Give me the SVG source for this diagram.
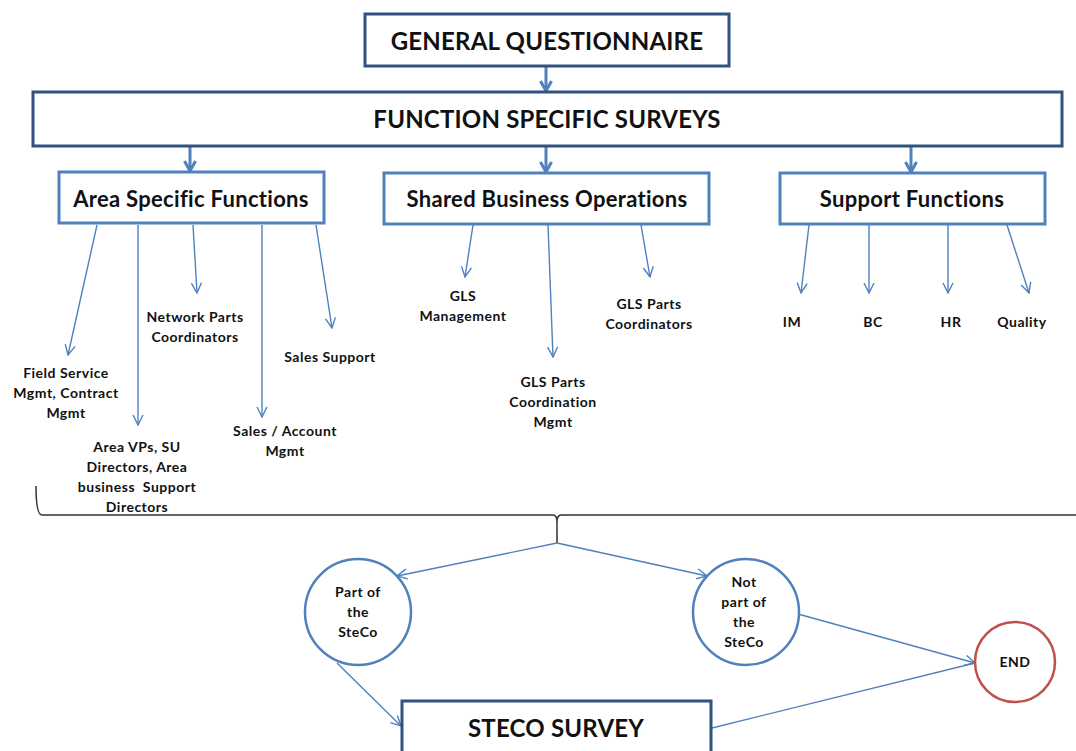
<svg xmlns="http://www.w3.org/2000/svg" width="1076" height="751" viewBox="0 0 1076 751">
  <style>
    .t { font-family: Lato, "Liberation Sans", sans-serif; font-weight: bold; fill: #111; text-anchor: middle; }
    .big { font-size: 24px; letter-spacing: 0.2px; }
    .mid { font-size: 22px; letter-spacing: 0.3px; }
    .sm { font-size: 14px; letter-spacing: 0.5px; }
    .box-dark { fill: #fff; stroke: #2f5380; stroke-width: 3; }
    .box { fill: #fff; stroke: #4f81bd; stroke-width: 3; }
    .thin { fill: none; stroke: #4f81bd; stroke-width: 1.4; marker-end: url(#vhead); }
    .thick { fill: none; stroke: #4f81bd; stroke-width: 3; marker-end: url(#vbig); }
    .plain { fill: none; stroke: #4f81bd; stroke-width: 1.4; }
    .brace { fill: none; stroke: #333; stroke-width: 1.5; }
    .circ { fill: #fff; stroke: #4f81bd; stroke-width: 2.5; }
    .endc { fill: #fff; stroke: #c0504d; stroke-width: 2.5; }
  </style>
  <defs>
    <marker id="vhead" viewBox="0 0 12 12" refX="11" refY="6" markerWidth="12" markerHeight="12" markerUnits="userSpaceOnUse" orient="auto">
      <path d="M1,1 L11,6 L1,11" fill="none" stroke="#4f81bd" stroke-width="1.4"/>
    </marker>
    <marker id="vbig" viewBox="0 0 14 14" refX="12" refY="7" markerWidth="14" markerHeight="14" markerUnits="userSpaceOnUse" orient="auto">
      <path d="M2,1.5 L12,7 L2,12.5" fill="none" stroke="#4f81bd" stroke-width="3"/>
    </marker>
  </defs>

  <rect width="1076" height="751" fill="#fff"/>

  <!-- connectors -->
  <g id="connectors">
    <path class="thick" d="M546,67 V91"/>
    <path class="thick" d="M190,147 V171"/>
    <path class="thick" d="M546,147 V172"/>
    <path class="thick" d="M911,147 V172"/>

    <!-- area specific -->
    <path class="thin" d="M97,225 L68,355"/>
    <path class="thin" d="M138,225 L138,425"/>
    <path class="thin" d="M193,225 L197,293"/>
    <path class="thin" d="M262,225 L262,417"/>
    <path class="thin" d="M316,225 L332,328"/>

    <!-- shared business -->
    <path class="thin" d="M473,225 L465,277"/>
    <path class="thin" d="M548,225 L553,357"/>
    <path class="thin" d="M641,225 L650,277"/>

    <!-- support -->
    <path class="thin" d="M809,225 L801,293"/>
    <path class="thin" d="M869,225 L869,293"/>
    <path class="thin" d="M948,225 L948,293"/>
    <path class="thin" d="M1007,225 L1029,293"/>

    <!-- grouping brace -->
    <path class="brace" d="M36,486 Q36,515 42,515 L553,515 Q557,515 557,522 L557,543 M557,543 L557,522 Q557,515 561,515 L1076,515"/>

    <path class="thin" d="M557,543 L397,576"/>
    <path class="thin" d="M557,543 L707,576"/>

    <path class="thin" d="M337,663 L401,726"/>
    <path class="thin" d="M798,614 L975,663"/>
    <path class="plain" d="M712,728 L975,663"/>
  </g>

  <g id="general-questionnaire">
    <rect class="box-dark" x="365" y="14" width="364" height="52"/>
    <text class="t big" x="547" y="50">GENERAL QUESTIONNAIRE</text>
  </g>

  <g id="function-specific-surveys">
    <rect class="box-dark" x="33" y="92" width="1029" height="54"/>
    <text class="t big" x="547" y="128">FUNCTION SPECIFIC SURVEYS</text>
  </g>

  <g id="area-specific-functions">
    <rect class="box" x="59" y="172" width="265" height="51"/>
    <text class="t mid" x="191" y="207">Area Specific Functions</text>
  </g>

  <g id="shared-business-operations">
    <rect class="box" x="384" y="173" width="325" height="51"/>
    <text class="t mid" x="547" y="207">Shared Business Operations</text>
  </g>

  <g id="support-functions">
    <rect class="box" x="780" y="173" width="265" height="51"/>
    <text class="t mid" x="912" y="207">Support Functions</text>
  </g>

  <!-- leaf labels -->
  <g id="field-service">
    <text class="t sm" x="66" y="378">Field Service</text>
    <text class="t sm" x="66" y="398">Mgmt, Contract</text>
    <text class="t sm" x="66" y="418">Mgmt</text>
  </g>
  <g id="area-vps">
    <text class="t sm" x="137" y="452">Area VPs, SU</text>
    <text class="t sm" x="137" y="472">Directors, Area</text>
    <text class="t sm" x="137" y="492" xml:space="preserve">business  Support</text>
    <text class="t sm" x="137" y="512">Directors</text>
  </g>
  <g id="network-parts">
    <text class="t sm" x="195" y="322">Network Parts</text>
    <text class="t sm" x="195" y="342">Coordinators</text>
  </g>
  <g id="sales-account">
    <text class="t sm" x="285" y="436">Sales / Account</text>
    <text class="t sm" x="285" y="456">Mgmt</text>
  </g>
  <g id="sales-support">
    <text class="t sm" x="330" y="362">Sales Support</text>
  </g>
  <g id="gls-management">
    <text class="t sm" x="463" y="301">GLS</text>
    <text class="t sm" x="463" y="321">Management</text>
  </g>
  <g id="gls-parts-coordination">
    <text class="t sm" x="553" y="387">GLS Parts</text>
    <text class="t sm" x="553" y="407">Coordination</text>
    <text class="t sm" x="553" y="427">Mgmt</text>
  </g>
  <g id="gls-parts-coordinators">
    <text class="t sm" x="649" y="309">GLS Parts</text>
    <text class="t sm" x="649" y="329">Coordinators</text>
  </g>
  <g id="im"><text class="t sm" x="792" y="327">IM</text></g>
  <g id="bc"><text class="t sm" x="873" y="327">BC</text></g>
  <g id="hr"><text class="t sm" x="951" y="327">HR</text></g>
  <g id="quality"><text class="t sm" x="1022" y="327">Quality</text></g>

  <g id="part-of-steco">
    <circle class="circ" cx="358" cy="612" r="53"/>
    <text class="t sm" x="358" y="597">Part of</text>
    <text class="t sm" x="358" y="617">the</text>
    <text class="t sm" x="358" y="637">SteCo</text>
  </g>

  <g id="not-part-of-steco">
    <circle class="circ" cx="746" cy="612" r="53"/>
    <text class="t sm" x="744" y="587">Not</text>
    <text class="t sm" x="744" y="607">part of</text>
    <text class="t sm" x="744" y="627">the</text>
    <text class="t sm" x="744" y="647">SteCo</text>
  </g>

  <g id="end">
    <circle class="endc" cx="1015" cy="662" r="40"/>
    <text class="t sm" x="1015" y="667">END</text>
  </g>

  <g id="steco-survey">
    <rect class="box-dark" x="402" y="701" width="309" height="60"/>
    <text class="t big" x="556" y="737">STECO SURVEY</text>
  </g>
</svg>
